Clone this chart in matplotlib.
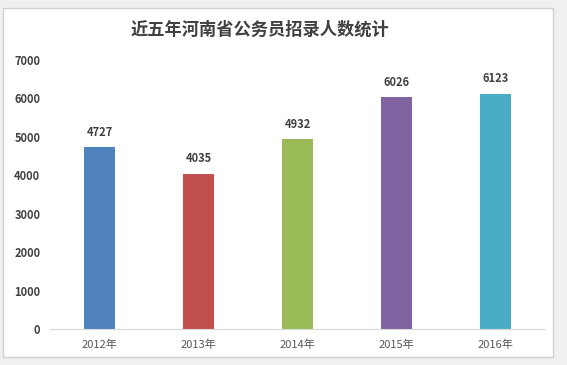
import matplotlib
matplotlib.use("Agg")
import matplotlib.pyplot as plt
from matplotlib.patches import Rectangle

plt.rcParams['font.family'] = ['Noto Sans CJK SC', 'DejaVu Sans']

categories = ['2012年', '2013年', '2014年', '2015年', '2016年']
values = [4727, 4035, 4932, 6026, 6123]
colors = ['#4F81BD', '#C0504D', '#9BBB59', '#8064A2', '#4BACC6']
yticks = [0, 1000, 2000, 3000, 4000, 5000, 6000, 7000]
title = '近五年河南省公务员招录人数统计'

W, H = 567, 365
fig = plt.figure(figsize=(W/100, H/100), dpi=100)
fig.patch.set_facecolor('#f0f0f0')
bg = Rectangle((3/W, 1-357/H), 550/W, 349/H, transform=fig.transFigure,
               facecolor='white', edgecolor='#d0d0d0', linewidth=1, zorder=-10)
fig.patches.append(bg)

ax = fig.add_axes([50/W, 1-329/H, 495/W, 269/H])
ax.set_zorder(5)
ax.set_facecolor('none')
x = range(len(categories))
ax.bar(x, values, width=0.315, color=colors, zorder=2)
for xi, v in zip(x, values):
    ax.text(xi, v + 230, str(v), ha='center', va='bottom', fontsize=8, fontweight='bold', color='#404040')

ax.set_xlim(-0.5, len(categories) - 0.5)
ax.set_ylim(0, 7000)
ax.set_xticks(list(x))
ax.set_xticklabels(categories, fontsize=8, color='#595959')
ax.set_yticks(yticks)
ax.set_yticklabels([str(t) for t in yticks], fontsize=8, fontweight='bold', color='#404040')
ax.tick_params(axis='both', length=0)
ax.tick_params(axis='x', pad=8)
ax.tick_params(axis='y', pad=7)
for s in ['top', 'right', 'left']:
    ax.spines[s].set_visible(False)
ax.spines['bottom'].set_color('#d9d9d9')

fig.text(260/W, 1-30/H, title, ha='center', va='center', fontsize=12.4, fontweight='bold', color='#404040', zorder=6)

fig.savefig('out.png', dpi=100, facecolor=fig.get_facecolor())
